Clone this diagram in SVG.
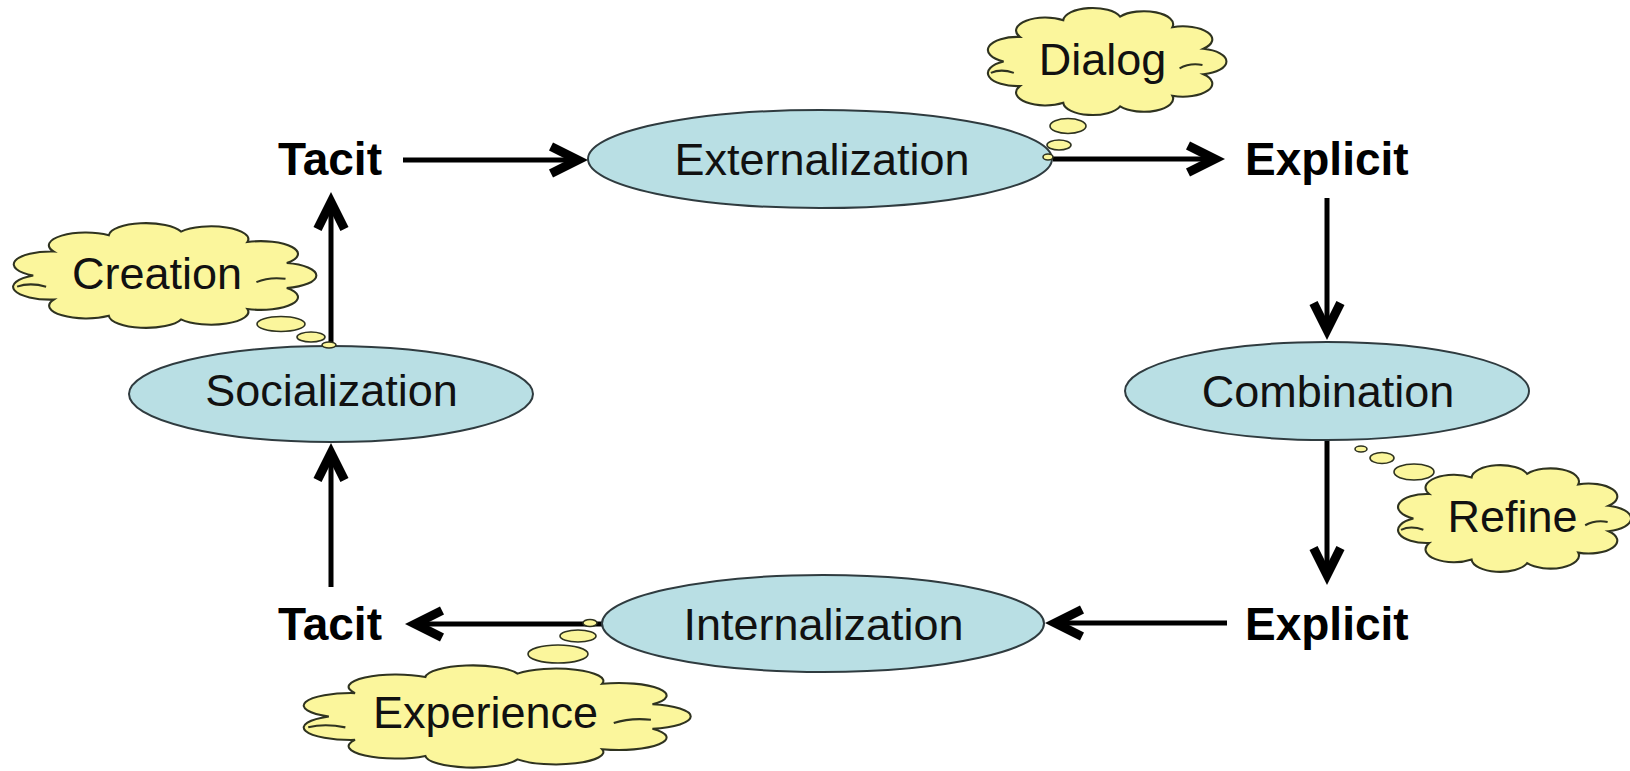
<svg xmlns="http://www.w3.org/2000/svg" width="1630" height="771" viewBox="0 0 1630 771">
<style>
.bg{fill:#ffffff}
.conn{stroke:#000;stroke-width:5;fill:none}
.stage{fill:#b9dfe4;stroke:#2f3b3f;stroke-width:2}
.stxt{font-family:"Liberation Sans",Arial,sans-serif;font-size:45px;fill:#111;text-anchor:middle}
.kind{font-family:"Liberation Sans",Arial,sans-serif;font-size:46px;font-weight:bold;fill:#000}
.cloud{fill:#fbf69c;stroke:#2f3320;stroke-width:2}
.inner{fill:none;stroke:#2f3320;stroke-width:2}
.bub{fill:#fbf69c;stroke:#2f3320;stroke-width:1.6}
.ctxt{font-family:"Liberation Sans",Arial,sans-serif;font-size:45px;fill:#111;text-anchor:middle}
</style>
<defs>
<marker id="ah" viewBox="-40 -20 50 40" markerWidth="50" markerHeight="40" refX="0" refY="0" orient="auto" markerUnits="userSpaceOnUse" overflow="visible">
<polygon points="6,0 -29,-17.5 -33,-9.45 -14.1,0 -33,9.45 -29,17.5" fill="#000"/>
</marker>
</defs>
<rect class="bg" x="0" y="0" width="1630" height="771"/>

<g id="connectors">
<line class="conn" x1="403" y1="160" x2="582" y2="160" marker-end="url(#ah)"/>
<line class="conn" x1="1053" y1="159" x2="1219" y2="159" marker-end="url(#ah)"/>
<line class="conn" x1="1327" y1="198" x2="1327" y2="334" marker-end="url(#ah)"/>
<line class="conn" x1="1327" y1="440" x2="1327" y2="579" marker-end="url(#ah)"/>
<line class="conn" x1="1227" y1="623" x2="1051" y2="623" marker-end="url(#ah)"/>
<line class="conn" x1="603" y1="624" x2="411" y2="624" marker-end="url(#ah)"/>
<line class="conn" x1="331" y1="587" x2="331" y2="449" marker-end="url(#ah)"/>
<line class="conn" x1="331" y1="346" x2="331" y2="198" marker-end="url(#ah)"/>
</g>

<g id="tacit-top"><text class="kind" x="278" y="175">Tacit</text></g>
<g id="explicit-top"><text class="kind" x="1245" y="175">Explicit</text></g>
<g id="explicit-bottom"><text class="kind" x="1245" y="640">Explicit</text></g>
<g id="tacit-bottom"><text class="kind" x="278" y="640">Tacit</text></g>

<g id="externalization">
<ellipse class="stage" cx="820" cy="159" rx="232" ry="49"/>
<text class="stxt" x="822" y="175">Externalization</text>
</g>
<g id="combination">
<ellipse class="stage" cx="1327" cy="391" rx="202" ry="49"/>
<text class="stxt" x="1328" y="407">Combination</text>
</g>
<g id="internalization">
<ellipse class="stage" cx="823" cy="623.5" rx="221" ry="48.5"/>
<text class="stxt" x="823.5" y="640">Internalization</text>
</g>
<g id="socialization">
<ellipse class="stage" cx="331" cy="394" rx="202" ry="48"/>
<text class="stxt" x="331.5" y="406">Socialization</text>
</g>

<g id="dialog">
<ellipse class="bub" cx="1048" cy="157" rx="5" ry="3"/>
<ellipse class="bub" cx="1059" cy="145" rx="12" ry="5"/>
<ellipse class="bub" cx="1068" cy="126" rx="18" ry="7.5"/>
<g transform="translate(1105.6 61.5) scale(1.045) translate(-1105.6 -61.5)">
<path class="cloud" d="M 1008 61.5 A 28.06 12.49 0 0 1 1023.5 38 A 28.06 12.49 0 0 1 1065.1 22 A 28.06 12.49 0 0 1 1119.5 18.5 A 28.06 12.49 0 0 1 1169.5 28.7 A 28.06 12.49 0 0 1 1199.2 49.3 A 28.06 12.49 0 0 1 1199.2 73.7 A 28.06 12.49 0 0 1 1169.5 94.3 A 28.06 12.49 0 0 1 1119.5 104.5 A 28.06 12.49 0 0 1 1065.1 101 A 28.06 12.49 0 0 1 1023.5 85 A 28.06 12.49 0 0 1 1008 61.5 Z"/>
<path class="inner" d="M 995.8 72.4 Q 1005.6 68 1017.8 72.4"/>
<path class="inner" d="M 1176.4 68 Q 1186.1 62.6 1198.3 64.8"/>
</g>
<text class="ctxt" x="1102.5" y="75">Dialog</text>
</g>

<g id="creation">
<ellipse class="bub" cx="281" cy="324" rx="24" ry="7.5"/>
<ellipse class="bub" cx="311" cy="337" rx="14" ry="5"/>
<ellipse class="bub" cx="329" cy="345" rx="7" ry="3"/>
<g transform="translate(162.6 275.5) scale(1.04) translate(-162.6 -275.5)">
<path class="cloud" d="M 38.2 275.5 A 35.77 12.26 0 0 1 58 252.5 A 35.77 12.26 0 0 1 110.9 236.7 A 35.77 12.26 0 0 1 180.3 233.3 A 35.77 12.26 0 0 1 244.1 243.3 A 35.77 12.26 0 0 1 282 263.5 A 35.77 12.26 0 0 1 282 287.5 A 35.77 12.26 0 0 1 244.1 307.7 A 35.77 12.26 0 0 1 180.3 317.7 A 35.77 12.26 0 0 1 110.9 314.3 A 35.77 12.26 0 0 1 58 298.6 A 35.77 12.26 0 0 1 38.2 275.5 Z"/>
<path class="inner" d="M 22.7 286.2 Q 35.1 281.9 50.6 286.2"/>
<path class="inner" d="M 252.8 281.9 Q 265.2 276.6 280.8 278.7"/>
</g>
<text class="ctxt" x="157" y="289">Creation</text>
</g>

<g id="refine">
<ellipse class="bub" cx="1361" cy="449" rx="6" ry="3"/>
<ellipse class="bub" cx="1382" cy="458" rx="12" ry="5.5"/>
<ellipse class="bub" cx="1414" cy="472" rx="20" ry="8"/>
<g transform="translate(1513 518.5) scale(1.04) translate(-1513 -518.5)">
<path class="cloud" d="M 1417.2 518.5 A 27.53 12.49 0 0 1 1432.4 495 A 27.53 12.49 0 0 1 1473.2 479 A 27.53 12.49 0 0 1 1526.6 475.5 A 27.53 12.49 0 0 1 1575.7 485.7 A 27.53 12.49 0 0 1 1604.9 506.3 A 27.53 12.49 0 0 1 1604.9 530.7 A 27.53 12.49 0 0 1 1575.7 551.3 A 27.53 12.49 0 0 1 1526.6 561.5 A 27.53 12.49 0 0 1 1473.2 558 A 27.53 12.49 0 0 1 1432.4 542 A 27.53 12.49 0 0 1 1417.2 518.5 Z"/>
<path class="inner" d="M 1405.3 529.4 Q 1414.8 525 1426.8 529.4"/>
<path class="inner" d="M 1582.4 525 Q 1592 519.6 1604 521.8"/>
</g>
<text class="ctxt" x="1512.5" y="532">Refine</text>
</g>

<g id="experience">
<ellipse class="bub" cx="590" cy="623" rx="7" ry="3.5"/>
<ellipse class="bub" cx="578" cy="636" rx="18" ry="6"/>
<ellipse class="bub" cx="558" cy="654" rx="30" ry="9"/>
<g transform="translate(494 716.5) scale(1.035) translate(-494 -716.5)">
<path class="cloud" d="M 334.4 716.5 A 45.89 12.03 0 0 1 359.7 693.9 A 45.89 12.03 0 0 1 427.7 678.4 A 45.89 12.03 0 0 1 516.7 675.1 A 45.89 12.03 0 0 1 598.5 684.9 A 45.89 12.03 0 0 1 647.1 704.7 A 45.89 12.03 0 0 1 647.1 728.3 A 45.89 12.03 0 0 1 598.5 748.1 A 45.89 12.03 0 0 1 516.7 757.9 A 45.89 12.03 0 0 1 427.7 754.6 A 45.89 12.03 0 0 1 359.7 739.1 A 45.89 12.03 0 0 1 334.4 716.5 Z"/>
<path class="inner" d="M 314.5 727 Q 330.4 722.8 350.4 727"/>
<path class="inner" d="M 609.7 722.8 Q 625.7 717.5 645.6 719.6"/>
</g>
<text class="ctxt" x="485.5" y="728">Experience</text>
</g>
</svg>
